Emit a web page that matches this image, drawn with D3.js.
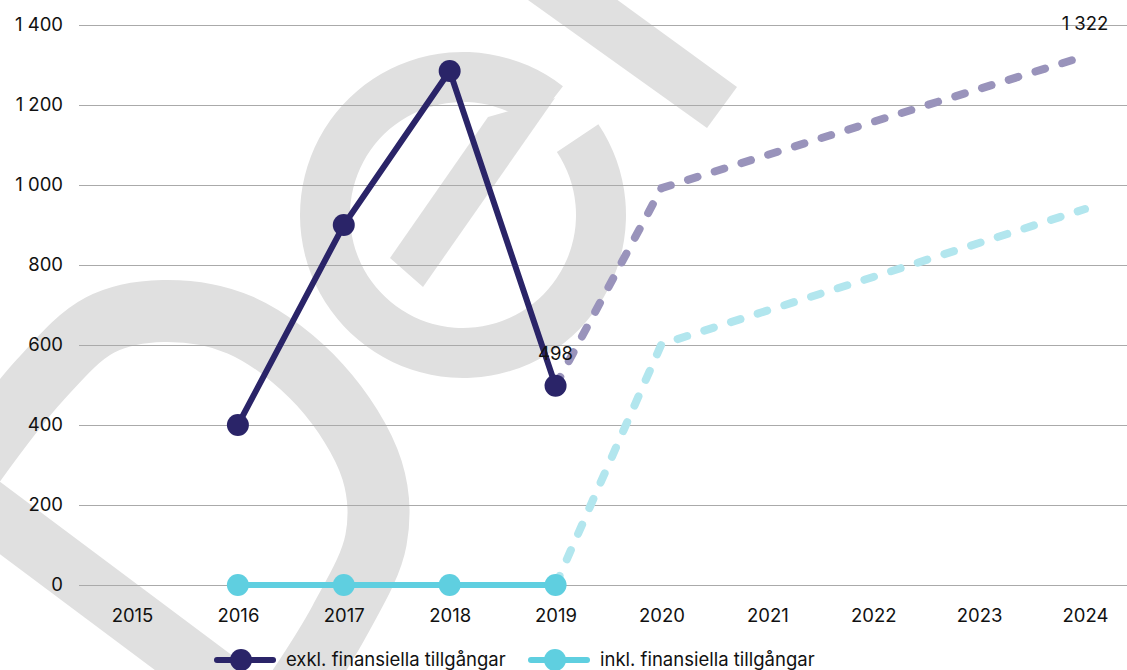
<!DOCTYPE html>
<html>
<head>
<meta charset="utf-8">
<script src="https://cdn.jsdelivr.net/npm/d3@7"></script>
<style>
  body { margin: 0; background: #fff; }
  text { font-family: Inter, "Noto Sans", sans-serif; fill: #111; }
</style>
</head>
<body>
<div class="chart"></div>
<script>
var years = ["2015", "2016", "2017", "2018", "2019", "2020", "2021", "2022", "2023", "2024"];
var yTicks = [0, 200, 400, 600, 800, 1000, 1200, 1400];

// actual values
var exklYears = ["2016", "2017", "2018", "2019"];
var exklValues = [400, 900, 1285, 498];
var inklYears = ["2016", "2017", "2018", "2019"];
var inklValues = [0, 0, 0, 0];

// forecast (dashed)
var prognosYears = ["2019", "2020", "2021", "2022", "2023", "2024"];
var exklPrognos = [498, 992, 1075, 1158, 1240, 1322];
var inklPrognos = [0, 602, 686, 770, 855, 940];

var seriesNames = ["exkl. finansiella tillgångar", "inkl. finansiella tillgångar"];

var svgWidth = 1127;
var svgHeight = 670;
var fontSize = 18.5;

var svg = d3.select(".chart")
  .append("svg")
  .attr("width", svgWidth)
  .attr("height", svgHeight);

// background watermark (logo shapes)
var wm = svg.append("g").attr("fill", "none").attr("stroke", "#e0e0e0");
var curve = d3.line().curve(d3.curveCatmullRom);
wm.append("path")
  .attr("stroke-width", 62)
  .attr("d", curve([[-30, 470], [40, 380], [100, 325], [163, 311], [240, 325], [320, 385], [372, 470], [376, 540], [340, 620], [290, 700]]));
wm.append("path")
  .attr("stroke-width", 58)
  .attr("d", d3.line()([[-20, 503], [230, 690]]));
wm.append("path")
  .attr("stroke", "none")
  .attr("fill", "#e0e0e0")
  .attr("transform", "translate(463,215)")
  .attr("d", d3.arc().innerRadius(113).outerRadius(163).startAngle(0.98).endAngle(2 * Math.PI + 0.66)());
wm.append("path")
  .attr("stroke", "none")
  .attr("fill", "#e0e0e0")
  .attr("d", "M488,117 L555,98 L423,287 L390,258 Z");
wm.append("path")
  .attr("stroke", "none")
  .attr("fill", "#e0e0e0")
  .attr("d", "M500,-20 L590,-20 L737,87 L707,128 Z");

// scales
var xScale = d3.scalePoint()
  .domain(years)
  .range([132, 1085]);

var yScale = d3.scaleLinear()
  .domain([0, 1400])
  .range([585, 25]);

var sv = d3.formatLocale({ decimal: ",", thousands: " ", grouping: [3], currency: ["", " kr"] });
var fmt = sv.format(",d");

// gridlines + y labels
var leftAxis = d3.axisLeft(yScale)
  .tickValues(yTicks)
  .tickSize(-(svgWidth - 79))
  .tickPadding(16)
  .tickFormat(fmt);

var yAxisG = svg.append("g")
  .attr("transform", "translate(79,0)")
  .call(leftAxis);
yAxisG.select(".domain").remove();
yAxisG.selectAll(".tick line").attr("stroke", "#aaa").attr("stroke-width", 1);
yAxisG.selectAll(".tick text")
  .attr("font-size", fontSize)
  .attr("font-family", "Inter, sans-serif")
  .attr("fill", "#111");

// x labels
var bottomAxis = d3.axisBottom(xScale).tickSize(0).tickPadding(0);
var xAxisG = svg.append("g")
  .attr("transform", "translate(0,609)")
  .call(bottomAxis);
xAxisG.select(".domain").remove();
xAxisG.selectAll(".tick text")
  .attr("font-size", fontSize)
  .attr("font-family", "Inter, sans-serif")
  .attr("fill", "#111");

var line = d3.line()
  .x(d => xScale(d[0]))
  .y(d => yScale(d[1]));

// dashed forecasts
svg.append("path")
  .attr("d", line(d3.zip(prognosYears, inklPrognos)))
  .attr("fill", "none")
  .attr("stroke", "#b2e6ee")
  .attr("stroke-width", 8)
  .attr("stroke-linecap", "round")
  .attr("stroke-dasharray", "10,18");

svg.append("path")
  .attr("d", line(d3.zip(prognosYears, exklPrognos)))
  .attr("fill", "none")
  .attr("stroke", "#9993bb")
  .attr("stroke-width", 8)
  .attr("stroke-linecap", "round")
  .attr("stroke-dasharray", "10,18");

// solid series
function drawSeries(yrs, vals, color) {
  var pts = d3.zip(yrs, vals);
  svg.append("path")
    .attr("d", line(pts))
    .attr("fill", "none")
    .attr("stroke", color)
    .attr("stroke-width", 6);
  svg.selectAll(null)
    .data(pts)
    .enter()
    .append("circle")
    .attr("cx", d => xScale(d[0]))
    .attr("cy", d => yScale(d[1]))
    .attr("r", 11)
    .attr("fill", color);
}
drawSeries(inklYears, inklValues, "#5fcfe0");
drawSeries(exklYears, exklValues, "#2a2468");

// data labels
var labels = [["2019", 498], ["2024", 1322]];
svg.selectAll(".dlabel")
  .data(labels)
  .enter()
  .append("text")
  .attr("class", "dlabel")
  .attr("x", d => xScale(d[0]))
  .attr("y", d => yScale(d[1]) - 26)
  .attr("text-anchor", "middle")
  .attr("font-size", fontSize)
  .text(d => fmt(d[1]));

// legend
var legend = [
  { name: seriesNames[0], color: "#2a2468", x: 217 },
  { name: seriesNames[1], color: "#5fcfe0", x: 531 }
];
var lg = svg.selectAll(".legend")
  .data(legend)
  .enter()
  .append("g")
  .attr("transform", d => `translate(${d.x}, 660)`);
lg.append("line")
  .attr("x1", 0).attr("x2", 56)
  .attr("stroke", d => d.color)
  .attr("stroke-width", 6)
  .attr("stroke-linecap", "round");
lg.append("circle")
  .attr("cx", 24)
  .attr("r", 11)
  .attr("fill", d => d.color);
lg.append("text")
  .attr("x", 69)
  .attr("dy", "0.35em")
  .attr("font-size", fontSize)
  .text(d => d.name);
</script>
</body>
</html>
